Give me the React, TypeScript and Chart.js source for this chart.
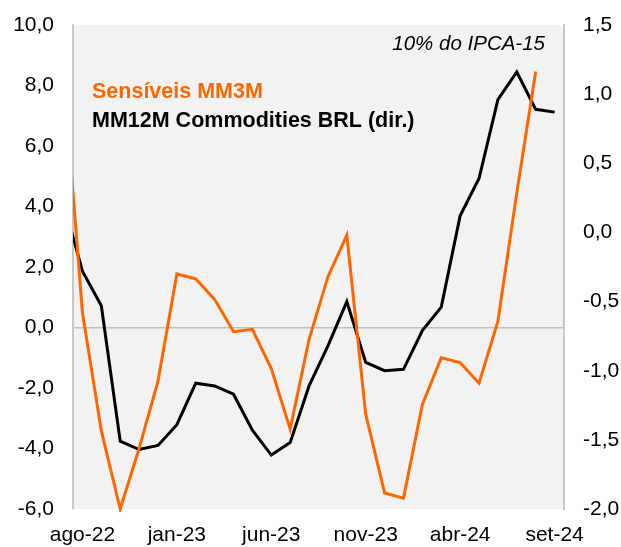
import React, { useEffect, useRef } from "react";
import { Chart, registerables } from "chart.js";

Chart.register(...registerables);

const months = [
  "jul-22", "ago-22", "set-22", "out-22", "nov-22", "dez-22",
  "jan-23", "fev-23", "mar-23", "abr-23", "mai-23", "jun-23",
  "jul-23", "ago-23", "set-23", "out-23", "nov-23", "dez-23",
  "jan-24", "fev-24", "mar-24", "abr-24", "mai-24", "jun-24",
  "jul-24", "ago-24", "set-24",
];

const shownTickLabels = ["ago-22", "jan-23", "jun-23", "nov-23", "abr-24", "set-24"];

// Sensíveis MM3M (left axis)
const sensiveisMM3M: (number | null)[] = [
  8.43, 0.49, -3.42, -6.0, -4.0, -1.77,
  1.77, 1.61, 0.93, -0.14, -0.06, -1.36,
  -3.36, -0.39, 1.68, 3.05, -2.87, -5.47,
  -5.64, -2.54, -1.0, -1.16, -1.84, 0.21,
  4.45, 8.46, null,
];

// MM12M Commodities BRL (right axis)
const commoditiesMM12M: number[] = [
  0.22, -0.28, -0.53, -1.51, -1.57, -1.54,
  -1.39, -1.09, -1.11, -1.17, -1.43, -1.61,
  -1.52, -1.11, -0.82, -0.50, -0.94, -1.00,
  -0.99, -0.71, -0.54, 0.12, 0.39, 0.96,
  1.16, 0.89, 0.87,
];

const leftTicks = { min: -6, max: 10, step: 2 };
const rightTicks = { min: -2, max: 1.5, step: 0.5 };

const ORANGE = "#ff6600";
const FONT = "'Liberation Sans', Arial, sans-serif";

const fmt = (v: number) => v.toFixed(1).replace(".", ",");

export default function App() {
  const ref = useRef<HTMLCanvasElement | null>(null);

  useEffect(() => {
    if (!ref.current) return;
    document.body.style.margin = "0";

    const bgPlugin = {
      id: "bg",
      beforeDraw(chart: any) {
        const { ctx, chartArea } = chart;
        ctx.save();
        ctx.fillStyle = "#f2f2f2";
        ctx.fillRect(chartArea.left, chartArea.top, chartArea.right - chartArea.left, chartArea.bottom - chartArea.top);
        ctx.restore();
      },
    };

    const textPlugin = {
      id: "texts",
      afterDraw(chart: any) {
        const { ctx } = chart;
        ctx.save();
        ctx.textBaseline = "alphabetic";
        ctx.textAlign = "left";
        ctx.font = `bold 21.5px ${FONT}`;
        ctx.fillStyle = ORANGE;
        ctx.fillText("Sensíveis MM3M", 92, 98);
        ctx.fillStyle = "#000";
        ctx.fillText("MM12M Commodities BRL (dir.)", 92, 127);
        ctx.font = `italic 20.5px ${FONT}`;
        ctx.textAlign = "right";
        ctx.fillText("10% do IPCA-15", 545, 50);
        ctx.restore();
      },
    };

    const firstShown = months.indexOf(shownTickLabels[0]);
    const lastShown = months.indexOf(shownTickLabels[shownTickLabels.length - 1]);

    const fitY = (w: number) => (scale: any) => {
      scale.width = w;
      scale.paddingTop = 0;
      scale.paddingBottom = 0;
    };

    const chart = new Chart(ref.current, {
      type: "line",
      data: {
        datasets: [
          {
            label: "Sensíveis MM3M",
            data: sensiveisMM3M.map((v, i) => ({ x: i, y: v })) as any,
            borderColor: ORANGE,
            borderWidth: 3,
            pointRadius: 0,
            tension: 0,
            yAxisID: "yL",
            clip: { left: 0, top: 3, right: 3, bottom: 3 } as any,
          },
          {
            label: "MM12M Commodities BRL (dir.)",
            data: commoditiesMM12M.map((v, i) => ({ x: i, y: v })) as any,
            borderColor: "#000",
            borderWidth: 3,
            pointRadius: 0,
            tension: 0,
            yAxisID: "yR",
            clip: { left: 0, top: 3, right: 3, bottom: 3 } as any,
          },
        ],
      },
      options: {
        responsive: false,
        animation: false,
        devicePixelRatio: 1,
        layout: { padding: { top: 25, left: 0, right: 0, bottom: 0 } },
        plugins: {
          legend: { display: false },
          tooltip: { enabled: false },
          title: { display: false },
        },
        scales: {
          x: {
            type: "linear",
            min: firstShown - 0.5,
            max: lastShown + 0.5,
            grid: { display: false },
            border: { display: false },
            afterBuildTicks(scale: any) {
              scale.ticks = shownTickLabels.map((l) => ({ value: months.indexOf(l) }));
            },
            afterFit(scale: any) {
              scale.height = 38;
              scale.paddingLeft = 0;
              scale.paddingRight = 0;
            },
            ticks: {
              autoSkip: false,
              maxRotation: 0,
              minRotation: 0,
              padding: 6,
              color: "#000",
              font: { family: FONT, size: 21 },
              callback: (v: any) => months[Math.round(Number(v))] ?? "",
            },
          },
          yL: {
            type: "linear",
            position: "left",
            min: leftTicks.min,
            max: leftTicks.max,
            afterFit: fitY(73),
            grid: {
              drawTicks: false,
              lineWidth: 1.5,
              color: (c: any) => (c.tick && c.tick.value === 0 ? "#bfbfbf" : "rgba(0,0,0,0)"),
            },
            border: { display: true, color: "#c8c8c8", width: 2 },
            ticks: {
              stepSize: leftTicks.step,
              padding: 19,
              color: "#000",
              font: { family: FONT, size: 21 },
              callback: (v: any) => fmt(Number(v)),
            },
          },
          yR: {
            type: "linear",
            position: "right",
            min: rightTicks.min,
            max: rightTicks.max,
            afterFit: fitY(57),
            grid: { display: false, drawTicks: false },
            border: { display: true, color: "#c8c8c8", width: 2 },
            ticks: {
              stepSize: rightTicks.step,
              padding: 19,
              color: "#000",
              font: { family: FONT, size: 21 },
              callback: (v: any) => fmt(Number(v)),
            },
          },
        },
      },
      plugins: [bgPlugin, textPlugin],
    });

    return () => chart.destroy();
  }, []);

  return (
    <div style={{ position: "absolute", left: 0, top: 0, width: 621, height: 547 }}>
      <canvas ref={ref} width={621} height={547} style={{ width: 621, height: 547 }} />
    </div>
  );
}
